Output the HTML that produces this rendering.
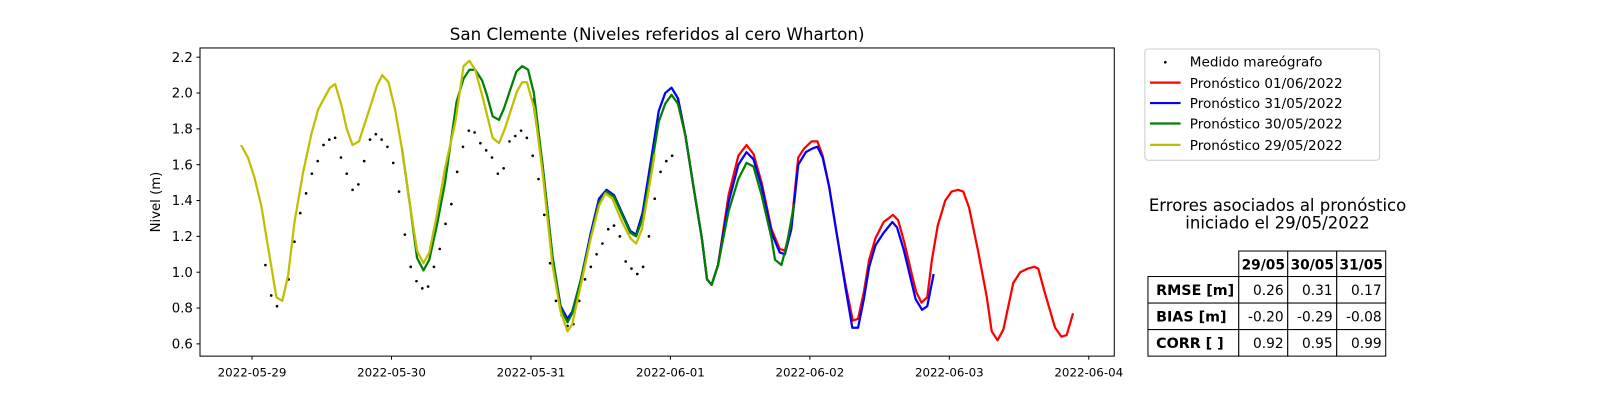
<!DOCTYPE html>
<html><head><meta charset="utf-8">
<style>
html,body{margin:0;padding:0;background:#fff;}
svg{display:block;font-family:"DejaVu Sans","Liberation Sans",sans-serif;}
</style></head>
<body>
<svg id="chart" width="1600" height="400" viewBox="0 0 1600 400" xmlns="http://www.w3.org/2000/svg">
<rect width="1600" height="400" fill="#fff"/>
<g transform="scale(1.0204)">
<text x="644" y="39" font-size="16.4" text-anchor="middle">San Clemente (Niveles referidos al cero Wharton)</text>
<text transform="translate(157,198) rotate(-90)" font-size="13" text-anchor="middle">Nivel (m)</text>
<g id="ticks"></g>
<g id="series"></g>
<rect x="196" y="47" width="896" height="302" fill="none" stroke="#000" stroke-width="1"/>

<g font-size="13.3">
<rect x="1122" y="48" width="230" height="109" rx="3" fill="#fff" stroke="#ccc"/>
<circle cx="1142" cy="61" r="1.3" fill="#000"/>
<text x="1166" y="65">Medido mareógrafo</text>
<line x1="1127" y1="81" x2="1157" y2="81" stroke="#ff0000" stroke-width="2.2"/>
<text x="1166" y="86">Pronóstico 01/06/2022</text>
<line x1="1127" y1="101" x2="1157" y2="101" stroke="#0000ff" stroke-width="2.2"/>
<text x="1166" y="106">Pronóstico 31/05/2022</text>
<line x1="1127" y1="121" x2="1157" y2="121" stroke="#008000" stroke-width="2.2"/>
<text x="1166" y="126">Pronóstico 30/05/2022</text>
<line x1="1127" y1="142" x2="1157" y2="142" stroke="#bfbf00" stroke-width="2.2"/>
<text x="1166" y="147">Pronóstico 29/05/2022</text>
</g>

<g>
<text x="1252" y="207" font-size="16.2" text-anchor="middle">Errores asociados al pronóstico</text>
<text x="1252" y="224" font-size="16.2" text-anchor="middle">iniciado el 29/05/2022</text>
</g>
<g id="table" font-size="13.5"></g>
</g>
</svg>
<script>
// ---- data ----
const yTicks = [0.6,0.8,1.0,1.2,1.4,1.6,1.8,2.0,2.2];
const xTickHours = [0,24,48,72,96,120,144];
const xTickLabels = ["2022-05-29","2022-05-30","2022-05-31","2022-06-01","2022-06-02","2022-06-03","2022-06-04"];

const measH = [1,2,3,5,6,7,8,9,10,11,12,13,14,15,16,17,18,19,20,21,22,23,24,25,26,27,28,29,30,31,32,33,34,35,36,37,38,39,40,41,42,43,44,45,46,47,48,49,50,51,52,53,54,55,56,57,58,59,60,61,62,63,64,65,66,67,68,69,70,71];
const measV = [1.04,0.87,0.81,0.96,1.17,1.33,1.44,1.55,1.62,1.71,1.74,1.75,1.64,1.55,1.46,1.49,1.62,1.74,1.77,1.74,1.70,1.61,1.45,1.21,1.03,0.95,0.91,0.92,1.03,1.13,1.27,1.38,1.56,1.70,1.79,1.78,1.72,1.68,1.64,1.55,1.58,1.73,1.76,1.79,1.75,1.65,1.52,1.32,1.05,0.84,0.76,0.70,0.71,0.84,0.96,1.03,1.10,1.16,1.24,1.26,1.20,1.06,1.02,0.99,1.03,1.20,1.41,1.56,1.62,1.65];

const yellowH = [-3.2,-2,-0.9,0.3,1.4,2.9,3.9,4.9,6,7.5,8.9,10.1,12.1,13,14.1,15,16,17.1,20.2,21.1,22.2,23.3,24.5,25.9,27.1,28.2,29.2,30.5,31.9,33.7,35.1,36.1,37.1,38.6,40.1,41.2,42.2,44.3,45.2,46,47.3,48.7,50.4,51.8,53,53.8,55.3,57,58.4,59.5,60.7,62.4,63.8,64.8,65.8,67.3,68];
const yellowV = [1.71,1.64,1.53,1.37,1.15,0.86,0.84,0.98,1.28,1.56,1.77,1.91,2.03,2.05,1.93,1.80,1.71,1.73,2.04,2.10,2.06,1.91,1.69,1.37,1.12,1.05,1.11,1.32,1.58,1.84,2.15,2.18,2.13,1.95,1.75,1.72,1.80,2.01,2.06,2.06,1.91,1.56,1.04,0.78,0.67,0.71,0.93,1.19,1.37,1.44,1.41,1.28,1.19,1.16,1.24,1.52,1.66];

const greenH = [24.5,25.9,27.1,28.2,29.2,30.5,31.9,33.9,35.1,36.1,37.1,38.3,39.1,40.1,41.2,42,44.2,45.2,46.2,47.2,48.7,50.4,51.8,53,53.8,55.3,57,58.4,59.7,61,62.4,63.8,64.8,65.9,67.3,68.7,69.8,70.9,72,73.3,74.7,76.1,77,77.8,78.9,80.7,82.4,83.8,85,86.4,88.1,88.7,89.8,90.7,92];
const greenV = [1.69,1.37,1.08,1.01,1.07,1.26,1.50,1.95,2.08,2.13,2.13,2.07,1.99,1.87,1.85,1.91,2.12,2.15,2.13,2.00,1.60,1.09,0.80,0.72,0.77,0.96,1.20,1.39,1.45,1.42,1.32,1.22,1.20,1.30,1.56,1.84,1.94,1.99,1.94,1.76,1.47,1.19,0.96,0.93,1.04,1.34,1.52,1.61,1.59,1.43,1.19,1.07,1.04,1.15,1.38];

const blueH = [47,48.7,50.4,51.8,53,53.8,55.3,57,58.4,59.7,61,62.4,63.8,64.8,65.9,67.3,68.7,69.8,70.9,72,73.3,74.7,76.1,77,77.8,78.9,80.7,82.4,83.8,85,86.4,88.1,89.5,90.4,91.5,92.7,94,95.1,96,96.9,98,99.4,100.9,102,103,104,104.9,106,107.4,108.9,109.7,110.9,112,112.9,114,114.9,116];
const blueV = [1.97,1.60,1.09,0.81,0.74,0.78,0.96,1.22,1.41,1.46,1.43,1.33,1.23,1.21,1.33,1.61,1.90,2.00,2.03,1.97,1.76,1.47,1.19,0.96,0.93,1.04,1.39,1.60,1.67,1.63,1.48,1.22,1.11,1.10,1.24,1.60,1.67,1.69,1.70,1.64,1.48,1.20,0.90,0.69,0.69,0.85,1.03,1.15,1.22,1.28,1.25,1.12,0.97,0.85,0.79,0.81,0.99];

const redH = [72,73.3,74.7,76.1,77,77.8,78.9,80.7,82.4,83.8,85,86.4,88.1,89.5,90.4,91.5,92.7,93.7,95,96,96.9,98,99.4,100.9,102.1,103,104,104.9,106,107.4,109,109.9,111,112.3,113,113.9,114.9,115.7,116.7,118,119.1,120.2,121.1,122.1,123.7,125.1,126,127,128,129.7,130.9,132.2,133.3,134,135.1,136.9,138,138.9,140];
const redV = [1.97,1.76,1.47,1.19,0.96,0.93,1.04,1.43,1.65,1.71,1.66,1.50,1.24,1.13,1.12,1.26,1.64,1.69,1.73,1.73,1.65,1.48,1.20,0.92,0.73,0.74,0.89,1.07,1.19,1.28,1.32,1.29,1.16,0.98,0.89,0.83,0.86,1.07,1.26,1.40,1.45,1.46,1.45,1.36,1.11,0.87,0.67,0.62,0.68,0.94,1.00,1.02,1.03,1.02,0.89,0.69,0.64,0.65,0.77];

const colLabels = ["29/05","30/05","31/05"];
const rowLabels = ["RMSE [m]","BIAS [m]","CORR [ ]"];
const rmseVals = ["0.26","0.31","0.17"];
const biasVals = ["-0.20","-0.29","-0.08"];
const corrVals = ["0.92","0.95","0.99"];

// ---- axes ----
const NS="http://www.w3.org/2000/svg";
function xScale(h){return 247 + h*136.67/24;}
function xData(h){return xScale(h + 1.3);}
function yScale(v){return 337 - (v-0.6)*175.6;}
function mk(tag,attrs,parent){const e=document.createElementNS(NS,tag);for(const k in attrs)e.setAttribute(k,attrs[k]);parent.appendChild(e);return e;}

const tg=document.getElementById('ticks');
yTicks.forEach(v=>{
  const y=yScale(v);
  const l=mk('line',{x1:192.5,x2:196,y1:y,y2:y,stroke:'#000','stroke-width':1},tg);
  
  
  const t=mk('text',{x:189,y:y+4.5,'font-size':13,'text-anchor':'end'},tg);
  
  
  t.textContent=v.toFixed(1);
});
xTickHours.forEach((h,i)=>{
  const x=xScale(h);
  const l=mk('line',{x1:x,x2:x,y1:349,y2:352.5,stroke:'#000','stroke-width':1},tg);
  
  
  const t=mk('text',{x:x,y:369,'font-size':11.6,'text-anchor':'middle'},tg);
  
  
  t.textContent=xTickLabels[i];
});

// ---- series ----
const sg=document.getElementById('series');
function drawLine(H,V,color,name){
  const pts=H.map((h,i)=>xData(h).toFixed(1)+','+yScale(V[i]).toFixed(1)).join(' ');
  const p=mk('polyline',{points:pts,fill:'none',stroke:color,'stroke-width':2.2,'stroke-linejoin':'round'},sg);
  
  
}
measH.forEach((h,i)=>{
  const c=mk('circle',{cx:xData(h),cy:yScale(measV[i]),r:1.3,fill:'#000'},sg);
  
  
});
drawLine(redH,redV,'#ff0000','forecast-0106-line');
drawLine(blueH,blueV,'#0000ff','forecast-3105-line');
drawLine(greenH,greenV,'#008000','forecast-3005-line');
drawLine(yellowH,yellowV,'#bfbf00','forecast-2905-line');

// ---- table ----
const tb=document.getElementById('table');
const colX=[1214,1262,1310,1358];
const rowY=[246,271,297,323,349];
for(let c=0;c<3;c++){
  const r=mk('rect',{x:colX[c],y:rowY[0],width:colX[c+1]-colX[c],height:rowY[1]-rowY[0],fill:'#fff',stroke:'#000'},tb);
  
  
  const t=mk('text',{x:(colX[c]+colX[c+1])/2,y:rowY[0]+18,'text-anchor':'middle','font-weight':'bold'},tb);
  
  
  t.textContent=colLabels[c];
}
const rowsVals=[rmseVals,biasVals,corrVals];
for(let r=0;r<3;r++){
  const y0=rowY[r+1],y1=rowY[r+2];
  const lr=mk('rect',{x:1125,y:y0,width:89,height:y1-y0,fill:'#fff',stroke:'#000'},tb);
  
  
  const lt=mk('text',{x:1133,y:y0+18,'font-weight':'bold','font-size':14},tb);
  
  
  lt.textContent=rowLabels[r];
  for(let c=0;c<3;c++){
    const cr=mk('rect',{x:colX[c],y:y0,width:colX[c+1]-colX[c],height:y1-y0,fill:'#fff',stroke:'#000'},tb);
    
    
    const ct=mk('text',{x:colX[c+1]-4,y:y0+18,'text-anchor':'end'},tb);
    
    
    ct.textContent=rowsVals[r][c];
  }
}
</script>
</body></html>
